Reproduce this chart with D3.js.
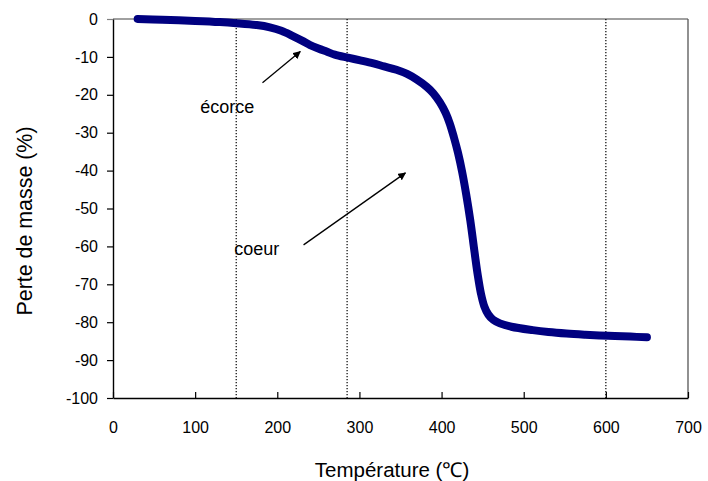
<!DOCTYPE html>
<html><head><meta charset="utf-8">
<script src="https://cdn.jsdelivr.net/npm/d3@7"></script>
<style>body{margin:0;background:#fff}svg{display:block;font-family:"Liberation Sans",Arial,sans-serif}</style>
</head><body><svg id="c" width="708" height="481"></svg>
<script>
const temps = [30,60,100,130,150,175,191,205,219,230,240,250,260,270,286,301,317,330,345,358,370,382,390,398,405,410,415,420,425,430,435,440,444,448,452,457,463,471,485,511,530,552,575,603,630,650];
const masse = [0,-0.2,-0.5,-0.8,-1.1,-1.6,-2.2,-3.1,-4.5,-5.7,-6.9,-7.8,-8.6,-9.4,-10.2,-10.9,-11.7,-12.5,-13.4,-14.5,-16.0,-17.9,-19.6,-22.0,-24.8,-27.6,-31.2,-35.3,-40.3,-46.3,-53.2,-61.3,-67.5,-72.5,-75.8,-78.0,-79.4,-80.3,-81.2,-82.1,-82.6,-83.0,-83.3,-83.6,-83.8,-84];
const xTicks = [0,100,200,300,400,500,600,700];
const yTicks = [0,-10,-20,-30,-40,-50,-60,-70,-80,-90,-100];
const dottedX = [150,285,600];
const notes = [{text:"écorce", tx:139, ty:-24.7, from:[182,-16.8], to:[228,-8.6]},
               {text:"coeur", tx:175, ty:-62.3, from:[232,-59.6], to:[356,-40.6]}];

const svg = d3.select("#c");
const x = d3.scaleLinear().domain([0,700]).range([113,688]);
const y = d3.scaleLinear().domain([-100,0]).range([398,19]);
const fmt = d => String(d);

svg.append("defs").append("marker").attr("id","ah").attr("viewBox","0 0 10 10")
  .attr("refX",9).attr("refY",5).attr("markerWidth",8).attr("markerHeight",8)
  .attr("markerUnits","userSpaceOnUse").attr("orient","auto")
  .append("path").attr("d","M0,0L10,5L0,10z").attr("fill","#000");

// frame top/right
svg.append("line").attr("x1",x(0)).attr("x2",x(700)).attr("y1",y(0)).attr("y2",y(0)).attr("stroke","#808080").attr("stroke-width",1.3);
svg.append("line").attr("x1",x(700)).attr("x2",x(700)).attr("y1",y(0)).attr("y2",y(-100)).attr("stroke","#555").attr("stroke-width",1.3);

// dotted verticals
svg.selectAll(".dv").data(dottedX).join("line").attr("class","dv")
  .attr("x1",d=>x(d)).attr("x2",d=>x(d)).attr("y1",y(0)).attr("y2",y(-100))
  .attr("stroke","#000").attr("stroke-width",1.2).attr("stroke-dasharray","1.3,1.7");

// axes
const xa = svg.append("g").attr("transform",`translate(0,${y(-100)})`)
  .call(d3.axisBottom(x).tickValues(xTicks).tickFormat(fmt).tickSizeInner(-6).tickSizeOuter(0).tickPadding(24));
const ya = svg.append("g").attr("transform",`translate(${x(0)},0)`)
  .call(d3.axisLeft(y).tickValues(yTicks).tickFormat(fmt).tickSizeInner(6).tickSizeOuter(0).tickPadding(9));
[xa,ya].forEach(a=>{
  a.select(".domain").attr("stroke","#000").attr("stroke-width",1.4);
  a.selectAll(".tick line").attr("stroke","#000").attr("stroke-width",1.2);
  a.selectAll("text").attr("font-size",16).attr("fill","#000").attr("font-family","Liberation Sans, Arial, sans-serif");
});
ya.selectAll(".tick").filter(d=>d===0).select("line").attr("stroke","#808080");

// curve
const line = d3.line().x((d,i)=>x(temps[i])).y(d=>y(d)).curve(d3.curveCatmullRom.alpha(0.5));
svg.append("path").datum(masse).attr("d",line).attr("fill","none")
  .attr("stroke","#000080").attr("stroke-width",8).attr("stroke-linecap","round").attr("stroke-linejoin","round");

// annotations
notes.forEach(n=>{
  svg.append("line").attr("x1",x(n.from[0])).attr("y1",y(n.from[1])).attr("x2",x(n.to[0])).attr("y2",y(n.to[1]))
    .attr("stroke","#000").attr("stroke-width",1.3).attr("marker-end","url(#ah)");
  svg.append("text").attr("x",x(n.tx)).attr("y",y(n.ty)).attr("text-anchor","middle")
    .attr("font-size",18).text(n.text);
});

// titles
svg.append("text").attr("x",392).attr("y",477).attr("text-anchor","middle").attr("font-size",20.5).text("Température (℃)");
svg.append("text").attr("transform","translate(31.5,221) rotate(-90)").attr("text-anchor","middle").attr("font-size",21.4).text("Perte de masse (%)");
</script></body></html>
